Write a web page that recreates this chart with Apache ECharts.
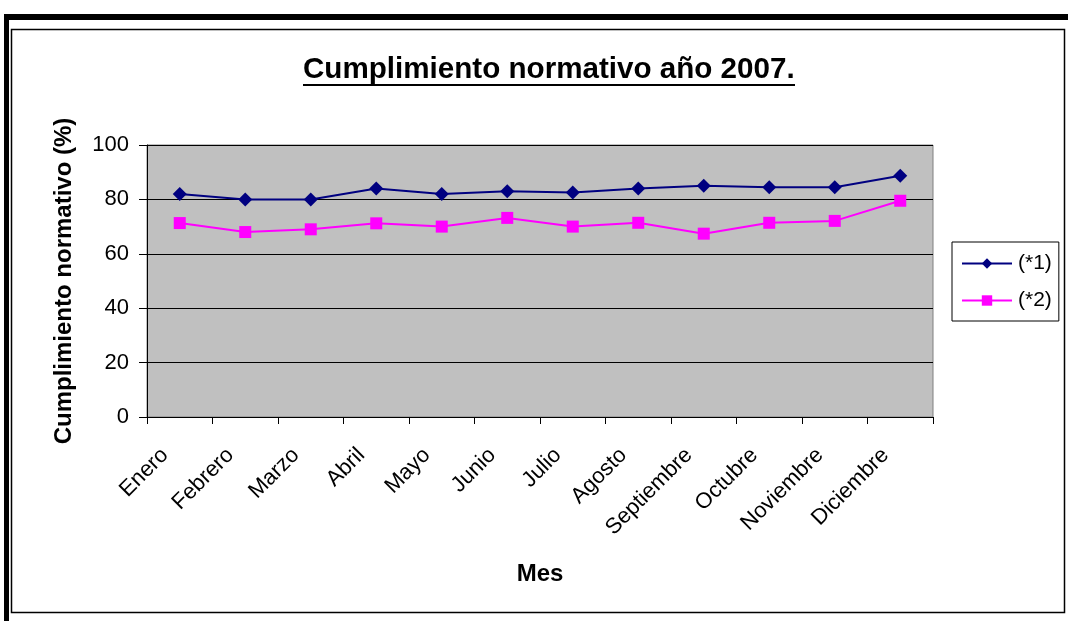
<!DOCTYPE html>
<html>
<head>
<meta charset="utf-8">
<script src="https://cdn.jsdelivr.net/npm/echarts@6/dist/echarts.min.js"></script>
<style>
  html, body { margin: 0; padding: 0; background: #ffffff; }
  #chart { width: 1068px; height: 621px; }
</style>
</head>
<body>
<div id="chart"></div>
<script>
// Monthly compliance percentages for 2007
const months = ['Enero', 'Febrero', 'Marzo', 'Abril', 'Mayo', 'Junio', 'Julio',
                'Agosto', 'Septiembre', 'Octubre', 'Noviembre', 'Diciembre'];
const serie1 = [82, 80, 80, 84, 82, 83, 82.5, 84, 85, 84.5, 84.5, 88.7];
const serie2 = [71.3, 68, 69, 71.2, 70, 73.2, 70, 71.4, 67.4, 71.4, 72.1, 79.5];
const yTicks = [0, 20, 40, 60, 80, 100];

const FONT = '"Liberation Sans", Arial, sans-serif';

const chart = echarts.init(document.getElementById('chart'), null, { renderer: 'canvas' });

chart.setOption({
  backgroundColor: '#ffffff',
  animation: false,
  title: {
    text: 'Cumplimiento normativo año 2007.',
    left: 298,
    top: 50,
    textStyle: { fontFamily: FONT, fontSize: 29.6, fontWeight: 'bold', color: '#000' }
  },
  graphic: [
    // frame: heavy top/left rule and thin inner box
    { type: 'rect', shape: { x: 4, y: 14, width: 1064, height: 6 }, style: { fill: '#000' } },
    { type: 'rect', shape: { x: 4, y: 14, width: 5, height: 607 }, style: { fill: '#000' } },
    { type: 'rect', shape: { x: 11.5, y: 29.5, width: 1053, height: 583 },
      style: { fill: null, stroke: '#000', lineWidth: 1.5 } },
    // title underline
    { type: 'rect', shape: { x: 303, y: 84, width: 492, height: 2 }, style: { fill: '#000' } }
  ],
  legend: {
    orient: 'vertical',
    left: 952,
    top: 242,
    padding: [11, 7, 10, 9],
    itemGap: 16,
    itemWidth: 50,
    itemHeight: 13,
    borderColor: '#000',
    borderWidth: 1,
    textStyle: { fontFamily: FONT, fontSize: 21, color: '#000', padding: [0, 0, 0, 1] },
    data: ['(*1)', '(*2)']
  },
  grid: {
    left: 147, top: 145, right: 135, bottom: 204,
    show: true, backgroundColor: '#c0c0c0', borderColor: '#808080', borderWidth: 1
  },
  xAxis: {
    type: 'category',
    data: months,
    boundaryGap: true,
    name: 'Mes',
    nameLocation: 'middle',
    nameGap: 145,
    nameTextStyle: { fontFamily: FONT, fontSize: 24, fontWeight: 'bold', color: '#000' },
    axisLine: { lineStyle: { color: '#000', width: 1 } },
    axisTick: { show: true, alignWithLabel: false, length: 7, lineStyle: { color: '#000' } },
    axisLabel: {
      rotate: 45, fontFamily: FONT, fontSize: 22, color: '#000', margin: 20,
      padding: [0, 21, 0, 0]
    },
    splitLine: { show: false }
  },
  yAxis: {
    type: 'value',
    min: 0, max: 100, interval: 20,
    name: 'Cumplimiento normativo (%)',
    nameLocation: 'middle',
    nameGap: 71,
    nameTextStyle: { fontFamily: FONT, fontSize: 24, fontWeight: 'bold', color: '#000' },
    axisLine: { show: true, lineStyle: { color: '#000', width: 1 } },
    axisTick: { show: true, length: 8, lineStyle: { color: '#000' } },
    axisLabel: {
      fontFamily: FONT, fontSize: 22, color: '#000', margin: 18,
      formatter: v => (yTicks.includes(v) ? String(v) : '')
    },
    splitLine: { show: true, lineStyle: { color: '#000', width: 1 } }
  },
  series: [
    {
      name: '(*1)', type: 'line', data: serie1,
      symbol: 'diamond', symbolSize: 14, showAllSymbol: true,
      itemStyle: { color: '#000080' },
      lineStyle: { color: '#000080', width: 2 }
    },
    {
      name: '(*2)', type: 'line', data: serie2,
      symbol: 'rect', symbolSize: 12, showAllSymbol: true,
      itemStyle: { color: '#ff00ff' },
      lineStyle: { color: '#ff00ff', width: 2 }
    }
  ]
});
</script>
</body>
</html>
